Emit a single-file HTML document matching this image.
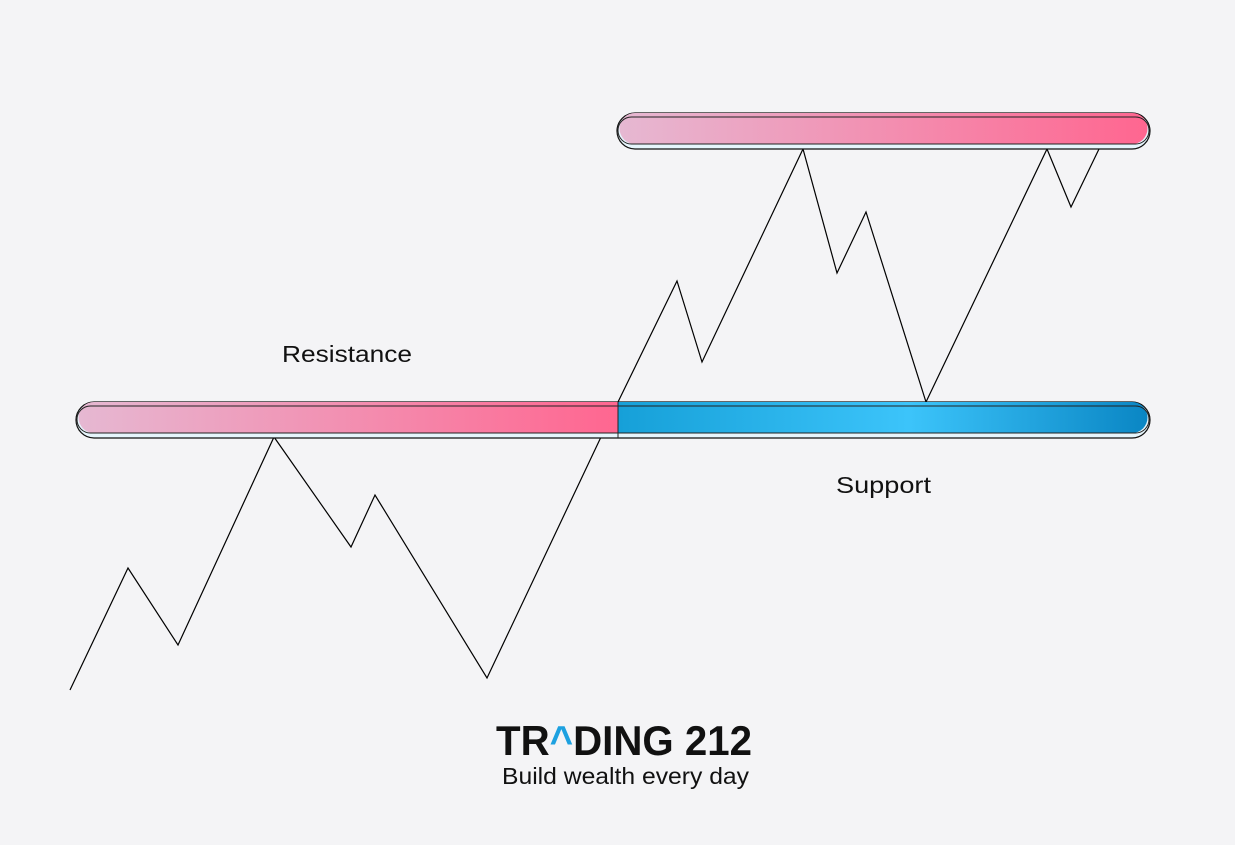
<!DOCTYPE html>
<html><head><style>
body{margin:0;width:1235px;height:840px;background:#f4f4f6;overflow:hidden;font-family:"Liberation Sans",sans-serif}
</style></head><body>
<svg width="1235" height="840" viewBox="0 0 1235 840" xmlns="http://www.w3.org/2000/svg">
<defs>
<linearGradient id="pk" x1="0" x2="1"><stop offset="0" stop-color="#e6b8d2"/><stop offset="1" stop-color="#ff6690"/></linearGradient>
<linearGradient id="bl" x1="0" x2="1"><stop offset="0" stop-color="#16a0d8"/><stop offset="0.55" stop-color="#3cc4fa"/><stop offset="1" stop-color="#0a86c4"/></linearGradient>
</defs>
<polyline points="70,690 128,568 178,645 274,437 351,547 375,495 487,678 601,437 618,402 677,281 702,362 803,149 837,273 866,212 926,402 1047,149 1071,207 1099,149" fill="none" stroke="#000" stroke-width="1.2"/>
<rect x="76" y="402" width="1074" height="36" rx="18" fill="#e6f5fc" stroke="#111" stroke-width="1.2"/>
<path d="M94,402 H618 V433 H94 A15.5,15.5 0 0 1 94,402 Z" fill="url(#pk)"/>
<path d="M618,402 H1132 A15.5,15.5 0 0 1 1132,433 H618 Z" fill="url(#bl)"/>
<rect x="77" y="406" width="1072" height="27" rx="13.5" fill="none" stroke="#222" stroke-width="1"/>
<line x1="618" y1="402" x2="618" y2="438" stroke="#222" stroke-width="1"/>
<rect x="617" y="113" width="533" height="36" rx="18" fill="#e6f5fc" stroke="#111" stroke-width="1.2"/>
<path d="M635,113 H1132 A15.5,15.5 0 0 1 1132,144 H635 A15.5,15.5 0 0 1 635,113 Z" fill="url(#pk)"/>
<rect x="618" y="117" width="531" height="27" rx="13.5" fill="none" stroke="#222" stroke-width="1"/>
<text x="282" y="362" font-size="23" fill="#111" textLength="130" lengthAdjust="spacingAndGlyphs">Resistance</text>
<text x="836" y="493" font-size="23" fill="#111" textLength="95" lengthAdjust="spacingAndGlyphs">Support</text>
<text x="496" y="755" font-size="42" font-weight="bold" fill="#111" textLength="256" lengthAdjust="spacingAndGlyphs">TR<tspan fill="#1da1e0">^</tspan>DING 212</text>
<text x="502" y="784" font-size="23" fill="#111" textLength="247" lengthAdjust="spacingAndGlyphs">Build wealth every day</text>
</svg>
</body></html>
